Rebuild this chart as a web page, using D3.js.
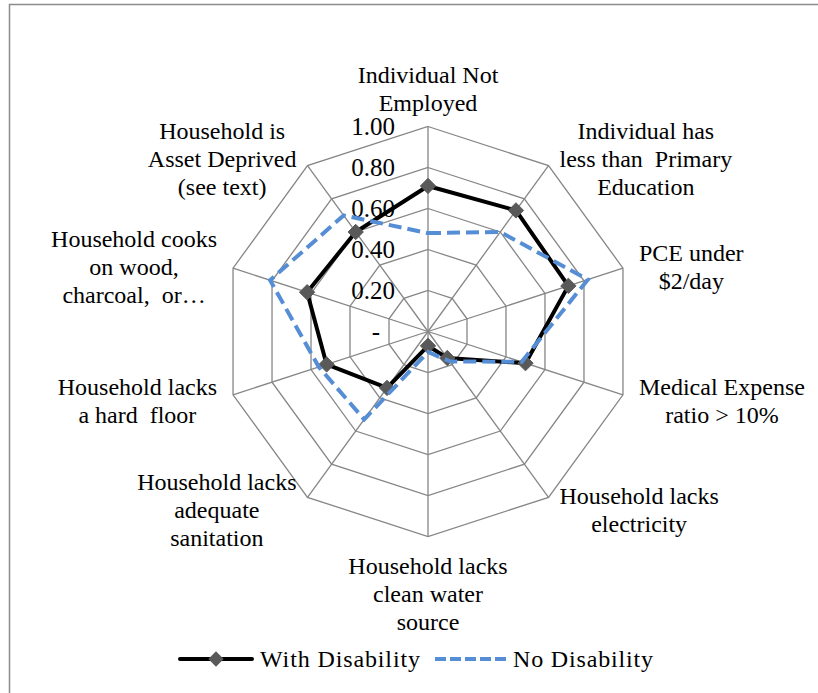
<!DOCTYPE html>
<html><head><meta charset="utf-8">
<script src="https://cdn.jsdelivr.net/npm/d3@7"></script>
</head>
<body style="margin:0">
<svg id="chart" width="818" height="693" font-family="Liberation Serif"></svg>
<script>
const categories = [
  ["Individual Not","Employed"],
  ["Individual has","less than  Primary","Education"],
  ["PCE under","$2/day"],
  ["Medical Expense","ratio > 10%"],
  ["Household lacks","electricity"],
  ["Household lacks","clean water","source"],
  ["Household lacks","adequate","sanitation"],
  ["Household lacks","a hard  floor"],
  ["Household cooks","on wood,","charcoal,  or\u2026"],
  ["Household is","Asset Deprived","(see text)"]
];
const withDisability = [0.71, 0.73, 0.72, 0.50, 0.16, 0.07, 0.34, 0.52, 0.62, 0.60];
const noDisability   = [0.48, 0.60, 0.82, 0.48, 0.18, 0.10, 0.53, 0.56, 0.81, 0.70];
const tickValues = [0, 0.2, 0.4, 0.6, 0.8, 1.0];
const tickLabels = ["-", "0.20", "0.40", "0.60", "0.80", "1.00"];
const seriesNames = ["With Disability", "No Disability"];

const FONT = "Liberation Serif";
const svg = d3.select("#chart");
const cx = 428, cy = 331.5, R = 205;
const N = categories.length;
const r = d3.scaleLinear().domain([0, 1]).range([0, R]);
const ang = d3.scaleLinear().domain([0, N]).range([0, 2 * Math.PI]);
const pt = (i, v) => [cx + r(v) * Math.sin(ang(i)), cy - r(v) * Math.cos(ang(i))];

// chart border
svg.append("rect").attr("x", 9.5).attr("y", 4.5).attr("width", 830).attr("height", 700)
  .attr("fill", "#fff").attr("stroke", "#8c8c8c").attr("stroke-width", 1.5);

const grid = svg.append("g");
tickValues.filter(t => t > 0).forEach(t => {
  const pts = d3.range(N).map(i => pt(i, t));
  grid.append("polygon").attr("points", pts.map(p => p.join(",")).join(" "))
    .attr("fill", "none").attr("stroke", "#868686").attr("stroke-width", 1.3);
});
d3.range(N).forEach(i => {
  const p = pt(i, 1);
  grid.append("line").attr("x1", cx).attr("y1", cy).attr("x2", p[0]).attr("y2", p[1])
    .attr("stroke", "#868686").attr("stroke-width", 1.3);
});

// tick labels
tickValues.forEach((t, k) => {
  svg.append("text").attr("x", cx - 33 - (t === 0 ? 15 : 0)).attr("y", cy - r(t) + 8)
    .attr("text-anchor", "end")
    .attr("font-family", FONT).attr("font-size", 25)
    .text(tickLabels[k]);
});

// category labels
const lh = 28, fs = 24;
categories.forEach((lines, i) => {
  const a = ang(i), dx = Math.sin(a), dy = -Math.cos(a);
  const v = pt(i, 1);
  const t = svg.append("text").attr("text-anchor", "middle").attr("xml:space", "preserve")
    .attr("font-family", FONT).attr("font-size", fs);
  const spans = lines.map(s => t.append("tspan").attr("xml:space", "preserve").text(s));
  let w = d3.max(spans, s => s.node().getComputedTextLength());
  if (!w || !isFinite(w)) w = d3.max(lines, s => s.length) * fs * 0.42;
  const h = lines.length * lh;
  let bx, by;
  if (Math.abs(dx) < 0.01) {
    bx = v[0];
    by = v[1] + dy * (h / 2 + 11) + (dy > 0 ? 5 : 2);
  } else {
    const pad = Math.abs(dy) < 0.5 ? 16 : 11;
    bx = v[0] + Math.sign(dx) * (w / 2 + pad);
    by = v[1] + dy * 12 + 3;
  }
  spans.forEach((s, k) => {
    s.attr("x", bx).attr("y", by - h / 2 + lh * k + lh / 2 + fs * 0.32);
  });
});

// series
const line = d3.line().curve(d3.curveLinearClosed);
const black = withDisability.map((v, i) => pt(i, v));
svg.append("path").attr("d", line(black)).attr("fill", "none")
  .attr("stroke", "#000").attr("stroke-width", 4).attr("stroke-linejoin", "round");
const diamond = d3.symbol().type(d3.symbolDiamond2).size(150);
svg.selectAll(".mk").data(black).enter().append("path")
  .attr("transform", d => `translate(${d[0]},${d[1]})`)
  .attr("d", diamond).attr("fill", "#595959").attr("stroke", "#595959").attr("stroke-width", 1);

const blue = noDisability.map((v, i) => pt(i, v));
svg.append("path").attr("d", line(blue)).attr("fill", "none")
  .attr("stroke", "#558ED5").attr("stroke-width", 4).attr("stroke-dasharray", "13,6");

// legend
const ly = 659;
const lg = svg.append("g");
lg.append("line").attr("x1", 180).attr("x2", 252).attr("y1", ly).attr("y2", ly)
  .attr("stroke", "#000").attr("stroke-width", 4).attr("stroke-linecap", "round");
lg.append("path").attr("transform", `translate(216,${ly})`).attr("d", diamond).attr("fill", "#595959");
lg.append("text").attr("x", 260).attr("y", ly + 8)
  .attr("font-family", FONT).attr("font-size", 24)
  .attr("textLength", 160).attr("lengthAdjust", "spacing").text(seriesNames[0]);
lg.append("line").attr("x1", 435).attr("x2", 506).attr("y1", ly).attr("y2", ly)
  .attr("stroke", "#558ED5").attr("stroke-width", 4).attr("stroke-dasharray", "11,4");
lg.append("text").attr("x", 513).attr("y", ly + 8)
  .attr("font-family", FONT).attr("font-size", 24)
  .attr("textLength", 140).attr("lengthAdjust", "spacing").text(seriesNames[1]);
</script>
</body></html>
